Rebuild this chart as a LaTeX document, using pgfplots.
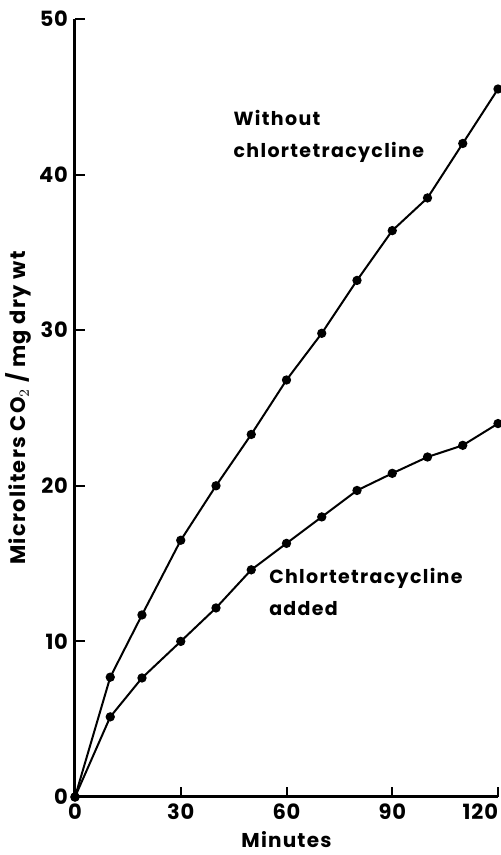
\documentclass[border=0pt]{standalone}
\usepackage{pgfplots}
\pgfplotsset{compat=1.18}
\usepackage{fontspec}
\setmainfont{Poppins}
\begin{document}
\begin{tikzpicture}
\begin{axis}[
  scale only axis, width=211.5pt, height=389pt,
  at={(0,0)}, anchor=south west,
  xmin=0, xmax=120, ymin=0, ymax=50,
  axis x line*=bottom, axis y line*=left,
  axis line style={line width=1.5pt, -},
  xtick={0,30,60,90,120}, ytick={0,10,20,30,40,50},
  xticklabels={0,30,60,90,\llap{120}},
  tick align=inside, major tick length=5pt,
  tick style={line width=1pt, black},
  /pgf/number format/assume math mode=true,
  ticklabel style={font=\bfseries\fontsize{10.5}{12}\selectfont\addfontfeature{LetterSpace=4}},
  xlabel={Minutes}, ylabel={Microliters CO$_2$ / mg dry wt},
  label style={font=\bfseries\fontsize{10}{12}\selectfont\addfontfeature{LetterSpace=6}},
  ylabel style={font=\bfseries\fontsize{10.5}{12}\selectfont\addfontfeature{LetterSpace=6}, yshift=-3pt},
  xlabel style={yshift=1pt},
  clip=false,
]
\addplot[black, line width=1pt, mark=*, mark size=1.8pt] coordinates {
(0,0) (10,7.7) (19,11.7) (30,16.5) (40,20.0) (50,23.3) (60,26.8) (70,29.8) (80,33.2) (90,36.4) (100,38.5) (110,42.0) (120,45.5)};
\addplot[black, line width=1pt, mark=*, mark size=1.8pt] coordinates {
(0,0) (10,5.15) (19,7.65) (30,10.0) (40,12.15) (50,14.6) (60,16.3) (70,18.0) (80,19.7) (90,20.8) (100,21.85) (110,22.6) (120,24.0)};
\node[anchor=north west, inner sep=0pt, font=\bfseries\fontsize{9.5}{12}\selectfont\addfontfeature{LetterSpace=7}, align=left] at (axis cs:44.9,44.15) {Without\\[4pt]chlortetracycline};
\node[anchor=north west, inner sep=0pt, font=\bfseries\fontsize{9.5}{12}\selectfont\addfontfeature{LetterSpace=7}, align=left] at (axis cs:55,14.7) {Chlortetracycline\\[4pt]added};
\end{axis}
\pgfresetboundingbox
\path (-37.5pt,-29pt) rectangle (213pt,398.5pt);
\end{tikzpicture}
\end{document}
